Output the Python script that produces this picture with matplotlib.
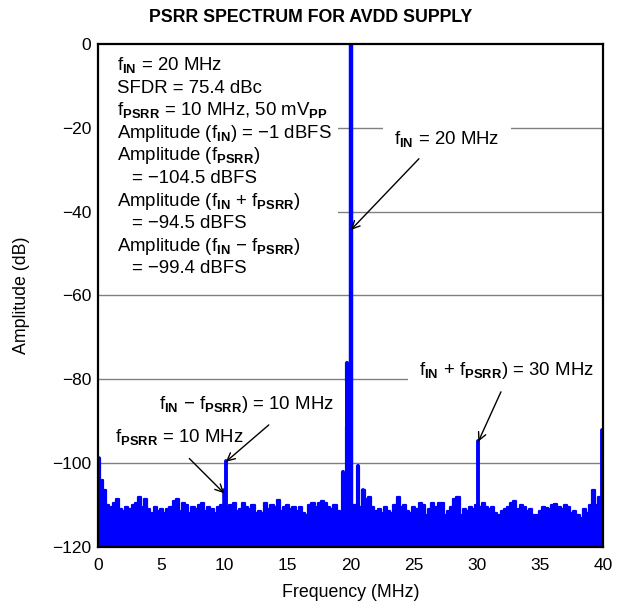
import numpy as np
import matplotlib
matplotlib.use("Agg")
import matplotlib.pyplot as plt
from matplotlib.patches import Rectangle

plt.rcParams['font.family'] = ['Liberation Sans', 'DejaVu Sans']
plt.rcParams['mathtext.fontset'] = 'custom'
plt.rcParams['mathtext.rm'] = 'Liberation Sans'
plt.rcParams['mathtext.it'] = 'Liberation Sans:italic'
plt.rcParams['mathtext.bf'] = 'Liberation Sans:bold'

# noise floor, one value every 0.25 MHz from 0 to 40 MHz
noise_db = [
    -98.8, -104.0, -106.5, -110.0, -110.5, -109.5, -108.5, -111.0,
    -111.5, -110.5, -111.0, -110.0, -109.5, -108.0, -110.5, -108.5,
    -111.0, -112.0, -110.5, -111.5, -111.0, -112.0, -111.0, -110.5,
    -109.0, -108.5, -111.5, -109.5, -110.0, -112.0, -110.5, -111.0,
    -110.0, -109.5, -111.5, -110.5, -111.0, -112.0, -110.5, -110.0,
    -110.0, -111.0, -110.0, -109.5, -111.5, -111.0, -109.5, -110.5,
    -111.0, -110.0, -112.0, -111.5, -112.0, -109.5, -111.0, -110.0,
    -110.5, -108.8, -111.5, -110.5, -110.0, -111.0, -110.5, -111.5,
    -110.5, -112.0, -112.5, -110.0, -109.5, -110.5, -109.5, -109.0,
    -109.5, -110.5, -111.0, -110.0, -111.5, -112.0, -112.0, -111.0,
    -110.0, -110.0, -110.0, -110.5, -106.4, -108.5, -108.0, -110.5,
    -111.5, -111.0, -112.0, -110.5, -111.5, -112.0, -110.0, -108.0,
    -110.5, -110.0, -111.5, -112.0, -110.5, -111.0, -109.5, -110.0,
    -112.5, -111.0, -109.5, -110.5, -109.5, -109.5, -112.5, -111.5,
    -110.5, -108.5, -108.0, -112.5, -111.0, -111.5, -110.5, -111.0,
    -110.0, -110.5, -109.5, -110.5, -111.0, -110.5, -112.0, -112.5,
    -111.5, -111.0, -110.5, -109.5, -109.0, -111.0, -110.0, -110.5,
    -111.5, -111.0, -112.5, -112.5, -111.5, -110.5, -110.8, -111.0,
    -110.0, -109.8, -110.5, -111.0, -110.0, -110.5, -112.0, -111.5,
    -112.5, -113.0, -111.0, -112.0, -110.0, -106.5, -110.0, -108.0,
    -108.0,
]
noise_freq = np.linspace(0, 40, len(noise_db))

# tones sticking out of the floor
spike_freq = [0.05, 9.95, 10.1, 19.35, 19.7, 20.05, 20.6, 21.0, 30.1, 39.9]
spike_db = [-98.8, -106.5, -99.4, -102.1, -76.1, -0.3, -100.6, -106.4, -94.8, -92.0]
spike_lw = [2.6, 2.6, 2.8, 3.0, 3.0, 3.2, 3.0, 2.8, 2.8, 2.8]

xticks = [0, 5, 10, 15, 20, 25, 30, 35, 40]
yticks = [0, -20, -40, -60, -80, -100, -120]
grid_db = [-20, -40, -60, -80, -100]

info_lines = [
    r'f$_{\mathbf{IN}}$ = 20 MHz',
    'SFDR = 75.4 dBc',
    r'f$_{\mathbf{PSRR}}$ = 10 MHz, 50 mV$_{\mathbf{PP}}$',
    r'Amplitude (f$_{\mathbf{IN}}$) = −1 dBFS',
    r'Amplitude (f$_{\mathbf{PSRR}}$)',
    '= −104.5 dBFS',
    r'Amplitude (f$_{\mathbf{IN}}$ + f$_{\mathbf{PSRR}}$)',
    '= −94.5 dBFS',
    r'Amplitude (f$_{\mathbf{IN}}$ − f$_{\mathbf{PSRR}}$)',
    '= −99.4 dBFS',
]

blue = '#0000ff'
fs = 13.4
fig = plt.figure(figsize=(6.27, 6.01), dpi=100)
ax = fig.add_axes([0.157, 0.090, 0.805, 0.837])

for g in grid_db:
    ax.axhline(g, color='#808080', lw=1.0, zorder=0.5)

# white area behind the info block
ax.add_patch(Rectangle((0, 0.531), 0.475, 0.469, transform=ax.transAxes,
                       fc='white', ec='none', zorder=1))

ax.fill_between(noise_freq, -120, noise_db, step='mid', color=blue, lw=0, zorder=2)
ax.plot(noise_freq, noise_db, drawstyle='steps-mid', color=blue, lw=1.6,
        solid_joinstyle='round', zorder=2)
lc = ax.vlines(spike_freq, -120, spike_db, colors=blue, lw=spike_lw, zorder=2)
lc.set_capstyle('round')

ax.set_xlim(0, 40)
ax.set_ylim(-120, 0)
ax.set_xticks(xticks)
ax.set_yticks(yticks)
ax.tick_params(axis='x', direction='in', length=13, width=1.3, top=False,
               pad=8, labelsize=12.5)
ax.tick_params(axis='y', length=0, pad=5, labelsize=12.5)
for s in ax.spines.values():
    s.set_linewidth(1.6)
    s.set_zorder(5)

ax.set_xlabel('Frequency (MHz)', fontsize=12.8, labelpad=8)
ax.set_ylabel('Amplitude (dB)', fontsize=12.8, labelpad=16)
fig.text(0.495, 0.971, 'PSRR SPECTRUM FOR AVDD SUPPLY', ha='center',
         va='center', fontsize=12.8, fontweight='bold')

# info block
for i, line in enumerate(info_lines):
    x = 0.066 if line.startswith('=') else 0.0367
    ax.text(x, 0.948 - i * 0.0449, line, transform=ax.transAxes,
            fontsize=fs, va='baseline', ha='left', zorder=6)

box = dict(boxstyle='square,pad=0.6', fc='white', ec='none')
ax.text(23.45, -23.9, r'f$_{\mathbf{IN}}$ = 20 MHz', fontsize=fs,
        va='baseline', bbox=box, zorder=3)
ax.text(25.44, -79.0, r'f$_{\mathbf{IN}}$ + f$_{\mathbf{PSRR}}$) = 30 MHz',
        fontsize=fs, va='baseline', bbox=box, zorder=3)
ax.text(4.8, -87.0, r'f$_{\mathbf{IN}}$ − f$_{\mathbf{PSRR}}$) = 10 MHz',
        fontsize=fs, va='baseline', bbox=box, zorder=3)
ax.text(1.31, -95.0, r'f$_{\mathbf{PSRR}}$ = 10 MHz', fontsize=fs,
        va='baseline', zorder=3)

arrow = dict(arrowstyle='->', color='black', lw=1.0, shrinkA=0, shrinkB=0,
             mutation_scale=14)
ax.annotate('', xy=(20.0, -44.4), xytext=(25.4, -27.4), arrowprops=arrow, zorder=4)
ax.annotate('', xy=(30.1, -94.9), xytext=(31.9, -83.0), arrowprops=arrow, zorder=4)
ax.annotate('', xy=(10.1, -99.7), xytext=(13.5, -90.9), arrowprops=arrow, zorder=4)
ax.annotate('', xy=(9.96, -107.2), xytext=(7.2, -98.9), arrowprops=arrow, zorder=4)

fig.savefig('out.png', dpi=100)
